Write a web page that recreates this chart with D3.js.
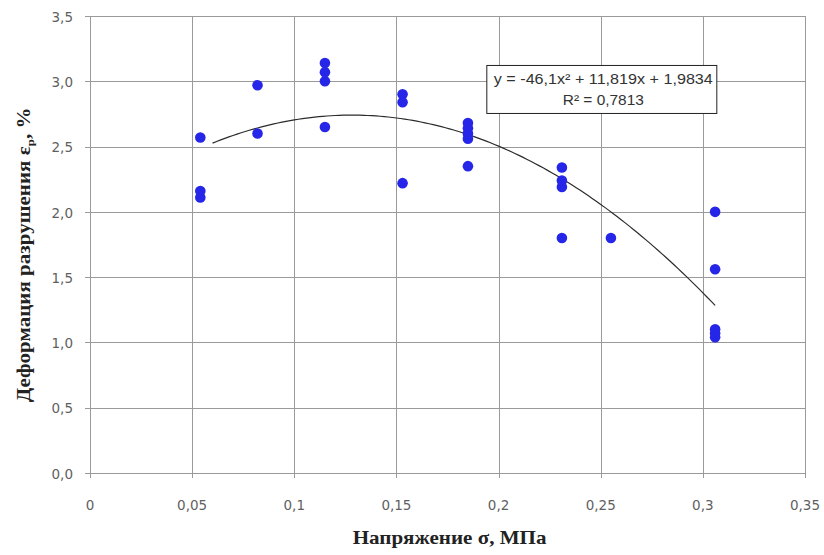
<!DOCTYPE html>
<html>
<head>
<meta charset="utf-8">
<script src="https://cdn.jsdelivr.net/npm/d3@7"></script>
<style>
  body { margin: 0; background: #fff; }
  svg { display: block; }
</style>
</head>
<body>
<div id="chart"></div>
<script>
// Measured points (stress, strain)
const stress = [0.054, 0.054, 0.054, 0.082, 0.082, 0.115, 0.115, 0.115, 0.115,
    0.153, 0.153, 0.153, 0.185, 0.185, 0.185, 0.185, 0.185,
    0.231, 0.231, 0.231, 0.231, 0.255, 0.306, 0.306, 0.306, 0.306, 0.306];
const strain = [2.57, 2.16, 2.11, 2.97, 2.60, 3.14, 3.07, 3.00, 2.65,
    2.90, 2.84, 2.22, 2.68, 2.64, 2.60, 2.56, 2.35,
    2.34, 2.24, 2.19, 1.80, 1.80, 2.00, 1.56, 1.10, 1.07, 1.04];

// Polynomial trendline: a*x^2 + b*x + c
const trendCoef = [-46.1, 11.819, 1.9834];
const trendRange = [0.06, 0.306];
const equationLines = ["y = -46,1x² + 11,819x + 1,9834", "R² = 0,7813"];

const xTicks = [0, 0.05, 0.1, 0.15, 0.2, 0.25, 0.3, 0.35];
const yTicks = [0, 0.5, 1, 1.5, 2, 2.5, 3, 3.5];

const W = 824, H = 555;
const margin = { top: 16, right: 19, bottom: 82, left: 90 };
const width = W - margin.left - margin.right;
const height = H - margin.top - margin.bottom;

const svg = d3.select("#chart").append("svg")
    .attr("width", W)
    .attr("height", H);

const g = svg.append("g")
    .attr("transform", `translate(${margin.left},${margin.top})`);

const x = d3.scaleLinear().domain([0, 0.35]).range([0, width]);
const y = d3.scaleLinear().domain([0, 3.5]).range([height, 0]);

const comma = v => String(v).replace(".", ",");
const gridColor = "#9a9a9a";
const labelColor = "#5f5f5f";
const stretch = 1.17; // the original is a little wide

// grid
g.selectAll(".vgrid").data(xTicks).enter().append("line")
    .attr("x1", d => Math.round(x(d)) + 0.5).attr("x2", d => Math.round(x(d)) + 0.5)
    .attr("y1", 0).attr("y2", height + 5)
    .attr("stroke", gridColor).attr("stroke-width", 1);

g.selectAll(".hgrid").data(yTicks).enter().append("line")
    .attr("x1", -5).attr("x2", width)
    .attr("y1", d => Math.round(y(d)) + 0.5).attr("y2", d => Math.round(y(d)) + 0.5)
    .attr("stroke", gridColor).attr("stroke-width", 1);

// tick labels
g.selectAll(".xl").data(xTicks).enter().append("text")
    .attr("x", d => x(d))
    .attr("y", height + 37)
    .attr("text-anchor", "middle")
    .attr("font-family", "DejaVu Sans, sans-serif")
    .attr("font-size", "13.5px")
    .attr("fill", labelColor)
    .text(d => comma(d));

g.selectAll(".yl").data(yTicks).enter().append("text")
    .attr("x", -17)
    .attr("y", d => y(d))
    .attr("dy", "0.42em")
    .attr("text-anchor", "end")
    .attr("font-family", "DejaVu Sans, sans-serif")
    .attr("font-size", "13.5px")
    .attr("fill", labelColor)
    .text(d => d3.format(".1f")(d).replace(".", ","));

// trendline
const trendX = d3.range(trendRange[0], trendRange[1] + 0.0001, 0.002);
g.append("path")
    .datum(trendX)
    .attr("fill", "none")
    .attr("stroke", "#2b2b2b")
    .attr("stroke-width", 1.2)
    .attr("d", d3.line()
        .x(d => x(d))
        .y(d => y(trendCoef[0] * d * d + trendCoef[1] * d + trendCoef[2])));

// points
g.selectAll(".pt").data(stress).enter().append("circle")
    .attr("cx", d => x(d))
    .attr("cy", (d, i) => y(strain[i]))
    .attr("r", 5.3)
    .attr("fill", "#2626e8");

// equation box
const box = g.append("g").attr("transform", `translate(${x(0.194)},${y(3.125)})`);
box.append("rect")
    .attr("x", 0.5).attr("y", 0.5)
    .attr("width", 230).attr("height", 48)
    .attr("fill", "#fff")
    .attr("stroke", "#222")
    .attr("stroke-width", 1);
const eqWidths = [219, 81];
box.selectAll("text").data(equationLines).enter().append("text")
    .attr("x", (d, i) => 115 - eqWidths[i] / 2 + 2)
    .attr("y", (d, i) => 19 + i * 21)
    .attr("textLength", (d, i) => eqWidths[i])
    .attr("lengthAdjust", "spacingAndGlyphs")
    .attr("font-family", "Liberation Sans, Arial, sans-serif")
    .attr("font-size", "14px")
    .attr("fill", "#333")
    .text(d => d);

// axis titles
svg.append("text")
    .attr("transform", `translate(${margin.left + x(0.176)},544) scale(${stretch},1)`)
    .attr("text-anchor", "middle")
    .attr("font-family", "Liberation Serif, Times New Roman, serif")
    .attr("font-weight", "bold")
    .attr("font-size", "18px")
    .attr("fill", "#222")
    .text("Напряжение σ, МПа");

const yTitle = svg.append("text")
    .attr("transform", `translate(30,${margin.top + y(1.67)}) rotate(-90) scale(${stretch},1)`)
    .attr("text-anchor", "middle")
    .attr("font-family", "Liberation Serif, Times New Roman, serif")
    .attr("font-weight", "bold")
    .attr("font-size", "18px")
    .attr("fill", "#222");
yTitle.append("tspan").text("Деформация разрушения ε");
yTitle.append("tspan")
    .attr("font-size", "11px")
    .attr("dy", 4)
    .text("р");
yTitle.append("tspan")
    .attr("dy", -4)
    .text(", %");
</script>
</body>
</html>
